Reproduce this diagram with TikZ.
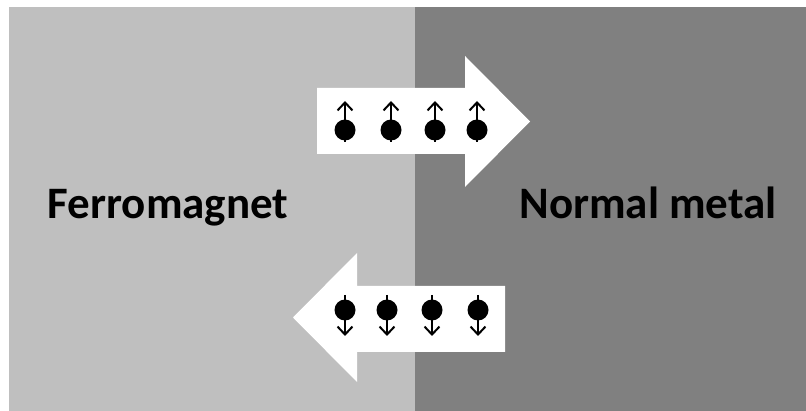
\documentclass[tikz,border=0pt]{standalone}
\usepackage{fontspec}
\setmainfont{Carlito}
\usetikzlibrary{arrows.meta}
\begin{document}
\begin{tikzpicture}[x=1pt,y=-1pt,
  spin/.style={circle,fill=black,inner sep=0pt,minimum size=21pt},
  stem/.style={line width=2pt,-{Straight Barb[length=8pt,width=15pt,line width=2pt]}},
  lbl/.style={font=\fontsize{45}{54}\selectfont\bfseries,anchor=base,inner sep=0pt},
  bigarrow/.style={fill=white}]
\useasboundingbox (0,0) rectangle (806,411);
\fill[white] (0,0) rectangle (806,411);
\fill[black!25] (9,7) rectangle (415,411);
\fill[black!50] (415,7) rectangle (806,411);
% big arrows
\fill[bigarrow] (317,88) -- (465,88) -- (465,56) -- (530,121.5) -- (465,187) -- (465,154) -- (317,154) -- cycle;
\fill[bigarrow] (505,286) -- (357,286) -- (357,253) -- (293,317.5) -- (357,382) -- (357,352) -- (505,352) -- cycle;
% labels
\node[lbl] (fm) at (168,219) {Ferromagnet};
\node[lbl] (nm) at (648,219) {Normal metal};
% spin up
\foreach \i/\x in {1/345,2/391,3/435,4/477}{
  \node[spin] (u\i) at (\x,130) {};
  \draw[stem] (u\i.center) ++(0,12) -- ++(0,-41);
}
% spin down
\foreach \i/\x in {1/345,2/387,3/432,4/478}{
  \node[spin] (d\i) at (\x,310) {};
  \draw[stem] (d\i.center) ++(0,-15) -- ++(0,41);
}
\end{tikzpicture}
\end{document}
